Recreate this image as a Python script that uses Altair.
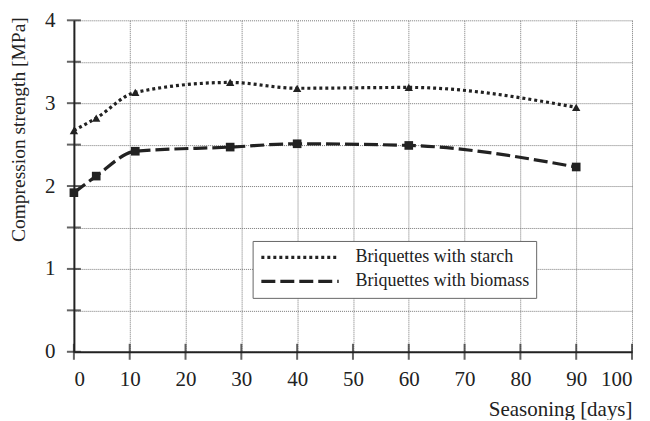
import altair as alt
import pandas as pd

days = [0, 4, 11, 28, 40, 60, 90]
starch = [2.67, 2.82, 3.13, 3.25, 3.18, 3.19, 2.95]
biomass = [1.92, 2.12, 2.42, 2.47, 2.51, 2.49, 2.23]
series_names = ["Briquettes with starch", "Briquettes with biomass"]
x_ticks = [0, 10, 20, 30, 40, 50, 60, 70, 80, 90, 100]
y_ticks = [0, 0.5, 1, 1.5, 2, 2.5, 3, 3.5, 4]

rows = []
for d, s, b in zip(days, starch, biomass):
    rows.append({"days": d, "value": s, "series": series_names[0]})
    rows.append({"days": d, "value": b, "series": series_names[1]})
df = pd.DataFrame(rows)

FONT = "Liberation Serif, Times New Roman, Times, serif"
INK = "#222222"

common_axis = dict(
    grid=True, gridDash=[1, 1], gridColor="#777777", gridWidth=1,
    ticks=False, domainColor=INK, domainWidth=2, labelFont=FONT, labelFontSize=21,
    labelColor=INK, titleFont=FONT, titleFontWeight="normal", titleColor=INK,
)

xscale = alt.Scale(domain=[0, 100], nice=False, zero=False)
yscale = alt.Scale(domain=[0, 4], nice=False)

xaxis = alt.Axis(
    values=x_ticks, format="d", labelPadding=17, title="Seasoning [days]",
    titleFontSize=21, titleAlign="right", titleAnchor="end", titleX=559,
    titleY=64, titleBaseline="alphabetic", **common_axis,
)
yaxis = alt.Axis(
    values=y_ticks, labelPadding=19,
    labelExpr="datum.value % 1 === 0 ? format(datum.value, 'd') : ''",
    title="Compression strength [MPa]", titleFontSize=19.5, titleAngle=-90,
    titleX=-55, titleY=109, titleBaseline="middle", titleAlign="center",
    **common_axis,
)

X = alt.X("days:Q", scale=xscale, axis=xaxis, title="Seasoning [days]")
Y = alt.Y("value:Q", scale=yscale, axis=yaxis, title="Compression strength [MPa]")

dash_scale = alt.Scale(domain=series_names, range=[[3, 3], [14, 5]])

lines = alt.Chart(df).mark_line(
    interpolate="monotone", color=INK, strokeWidth=3.2
).encode(
    x=X, y=Y,
    strokeDash=alt.StrokeDash(
        "series:N", scale=dash_scale, sort=series_names,
        legend=alt.Legend(
            title=None, orient="none", legendX=179, legendY=221,
            symbolType="M-1,0H9", symbolSize=240, symbolStrokeWidth=3.2,
            symbolStrokeColor=INK, labelFont=FONT, labelFontSize=18,
            labelColor=INK, labelOffset=77, rowPadding=5, padding=7,
            strokeColor="#666666", fillColor="white", labelLimit=400,
        ),
    ),
)

tri = alt.Chart(df).transform_filter(
    alt.datum.series == series_names[0]
).mark_point(filled=True, opacity=1, color=INK, shape="triangle-up", size=70).encode(x=X, y=Y)

sq = alt.Chart(df).transform_filter(
    alt.datum.series == series_names[1]
).mark_point(filled=True, opacity=1, color=INK, shape="square", size=75).encode(x=X, y=Y)

xt = alt.Chart(pd.DataFrame({"days": x_ticks, "value": [0] * len(x_ticks)})).mark_tick(
    orient="vertical", size=16, thickness=2, color=INK
).encode(x=X, y=Y)

yt = alt.Chart(pd.DataFrame({"value": y_ticks, "days": [0] * len(y_ticks)})).mark_tick(
    orient="horizontal", size=14, thickness=2, color=INK
).encode(x=X, y=Y)

chart = alt.layer(lines, tri, sq, xt, yt).properties(
    width=559, height=332,
    autosize=alt.AutoSizeParams(type="none"),
    padding={"left": 66, "top": 12, "right": 10, "bottom": 68},
    background="white",
).configure_view(stroke=None)

chart.save("out.html", embed_options={"renderer": "svg", "actions": False})
